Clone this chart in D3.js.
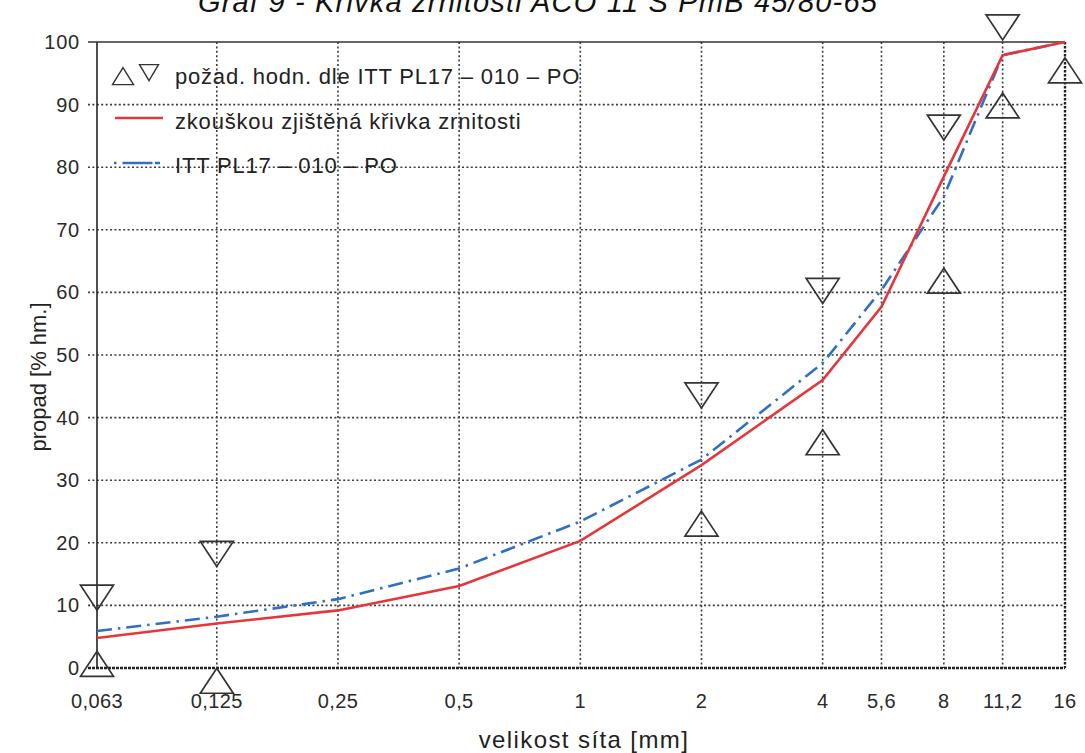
<!DOCTYPE html>
<html>
<head>
<meta charset="utf-8">
<script src="https://cdn.jsdelivr.net/npm/d3@7"></script>
<style>
  body { margin: 0; background: #fff; }
  svg { display: block; font-family: "Liberation Sans", Arial, sans-serif; }
</style>
</head>
<body>
<svg id="chart" width="1085" height="753"></svg>
<script>
// sieve sizes (mm) and their labels
var sieves = [0.063, 0.125, 0.25, 0.5, 1, 2, 4, 5.6, 8, 11.2, 16];
var sieveLabels = ['0,063', '0,125', '0,25', '0,5', '1', '2', '4', '5,6', '8', '11,2', '16'];
var yTicks = [0, 10, 20, 30, 40, 50, 60, 70, 80, 90, 100];

// measured grading curve
var measured = [4.8, 7.1, 9.2, 13.1, 20.3, 32.4, 46.0, 57.7, 78.5, 97.9, 100];
// ITT PL17 - 010 - PO curve
var ittCurve = [5.9, 8.2, 11.0, 15.9, 23.4, 33.3, 48.7, 60.4, 75.3, 97.9, 100];

// required limits (triangles)
var lowerSieves = [0.063, 0.125, 2, 4, 8, 11.2, 16];
var lowerLimits = [0, -2.7, 22.4, 35.4, 61.2, 89.2, 94.8];
var upperSieves = [0.063, 0.125, 2, 4, 8, 11.2];
var upperLimits = [11.9, 18.9, 44.2, 60.9, 87, 103];

var svg = d3.select('#chart');

var x = d3.scaleLog().domain([0.063, 16]).range([97, 1065]);
var y = d3.scaleLinear().domain([0, 100]).range([668, 42]);

// title (cut off at the top of the page, as in the scan)
svg.append('text')
  .attr('x', 538)
  .attr('y', 12)
  .attr('text-anchor', 'middle')
  .style('font-size', '29px')
  .style('letter-spacing', '1.2px')
  .style('font-style', 'italic')
  .style('fill', '#111')
  .text('Graf 9 - Křivka zrnitosti ACO 11 S PmB 45/80-65');

// grid
var grid = svg.append('g');
grid.selectAll('line.h')
  .data(yTicks.slice(1, -1))
  .enter()
  .append('line')
  .attr('x1', 88)
  .attr('x2', x(16))
  .attr('y1', function (d) { return y(d); })
  .attr('y2', function (d) { return y(d); })
  .style('stroke', '#3c3c3c')
  .style('stroke-width', 1.6)
  .style('stroke-dasharray', '2,2.4');

grid.selectAll('line.v')
  .data(sieves.slice(1, -1))
  .enter()
  .append('line')
  .attr('x1', function (d) { return x(d); })
  .attr('x2', function (d) { return x(d); })
  .attr('y1', y(100))
  .attr('y2', y(0))
  .style('stroke', '#3c3c3c')
  .style('stroke-width', 1.6)
  .style('stroke-dasharray', '2,2.4');

// frame
svg.append('line')
  .attr('x1', x(0.063)).attr('x2', x(0.063))
  .attr('y1', y(100)).attr('y2', y(0))
  .style('stroke', '#222').style('stroke-width', 1.6);
svg.append('line')
  .attr('x1', 88).attr('x2', x(16))
  .attr('y1', y(100)).attr('y2', y(100))
  .style('stroke', '#333').style('stroke-width', 1.6);
svg.append('line')
  .attr('x1', 88).attr('x2', x(16))
  .attr('y1', y(0)).attr('y2', y(0))
  .style('stroke', '#222').style('stroke-width', 2.6)
  .style('stroke-dasharray', '3,1');
svg.append('line')
  .attr('x1', x(16)).attr('x2', x(16))
  .attr('y1', y(100)).attr('y2', y(0))
  .style('stroke', '#222').style('stroke-width', 2.4)
  .style('stroke-dasharray', '2.5,1.5');

// axis labels
svg.selectAll('text.ytick')
  .data(yTicks)
  .enter()
  .append('text')
  .attr('x', 80)
  .attr('y', function (d) { return y(d) + 7; })
  .attr('text-anchor', 'end')
  .style('font-size', '20px')
  .style('letter-spacing', '0.8px')
  .style('fill', '#2a2a2a')
  .text(function (d) { return d; });

svg.selectAll('text.xtick')
  .data(sieves)
  .enter()
  .append('text')
  .attr('x', function (d) { return x(d); })
  .attr('y', 708)
  .attr('text-anchor', 'middle')
  .style('font-size', '20px')
  .style('letter-spacing', '0.4px')
  .style('fill', '#2a2a2a')
  .text(function (d, i) { return sieveLabels[i]; });

svg.append('text')
  .attr('transform', 'translate(46,377) rotate(-90)')
  .attr('text-anchor', 'middle')
  .style('font-size', '22px')
  .style('fill', '#222')
  .text('propad [% hm.]');

svg.append('text')
  .attr('x', 584)
  .attr('y', 748)
  .attr('text-anchor', 'middle')
  .style('font-size', '24px')
  .style('letter-spacing', '1.4px')
  .style('fill', '#222')
  .text('velikost síta [mm]');

// curves
var line = d3.line()
  .x(function (d) { return x(d[0]); })
  .y(function (d) { return y(d[1]); });

svg.append('path')
  .datum(d3.zip(sieves, ittCurve))
  .attr('d', line)
  .style('fill', 'none')
  .style('stroke', '#2f6fc4')
  .style('stroke-width', 2.6)
  .style('stroke-dasharray', '15,6,2.5,6');

svg.append('path')
  .datum(d3.zip(sieves, measured))
  .attr('d', line)
  .style('fill', 'none')
  .style('stroke', '#e5363c')
  .style('stroke-width', 2.6);

// triangles, centroid at the value
function tri(w, h, up) {
  var a = up ? -2 * h / 3 : 2 * h / 3;
  var b = up ? h / 3 : -h / 3;
  return 'M0,' + a + 'L' + (w / 2) + ',' + b + 'L' + (-w / 2) + ',' + b + 'Z';
}

svg.selectAll('path.lo')
  .data(d3.zip(lowerSieves, lowerLimits))
  .enter()
  .append('path')
  .attr('d', tri(33, 25, true))
  .attr('transform', function (d) { return 'translate(' + x(d[0]) + ',' + y(d[1]) + ')'; })
  .style('fill', 'none')
  .style('stroke', '#333')
  .style('stroke-width', 1.7);

svg.selectAll('path.hi')
  .data(d3.zip(upperSieves, upperLimits))
  .enter()
  .append('path')
  .attr('d', tri(33, 25, false))
  .attr('transform', function (d) { return 'translate(' + x(d[0]) + ',' + y(d[1]) + ')'; })
  .style('fill', 'none')
  .style('stroke', '#333')
  .style('stroke-width', 1.7);

// legend
var legend = svg.append('g');
legend.append('path')
  .attr('d', tri(21, 17, true))
  .attr('transform', 'translate(123,79)')
  .style('fill', 'none').style('stroke', '#333').style('stroke-width', 1.4);
legend.append('path')
  .attr('d', tri(19, 16, false))
  .attr('transform', 'translate(149,70)')
  .style('fill', 'none').style('stroke', '#333').style('stroke-width', 1.4);
legend.append('line')
  .attr('x1', 115).attr('x2', 163).attr('y1', 118).attr('y2', 118)
  .style('stroke', '#e5363c').style('stroke-width', 2.6);
legend.append('line')
  .attr('x1', 114).attr('x2', 160).attr('y1', 163).attr('y2', 163)
  .style('stroke', '#2f6fc4').style('stroke-width', 2.6)
  .style('stroke-dasharray', '2.5,6,30');

var legendTexts = ['požad. hodn. dle ITT PL17 – 010 – PO', 'zkouškou zjištěná křivka zrnitosti', 'ITT PL17 – 010 – PO'];
legend.selectAll('text')
  .data(legendTexts)
  .enter()
  .append('text')
  .attr('x', 175)
  .attr('y', function (d, i) { return 84 + i * 44.5; })
  .style('font-size', '22px')
  .style('letter-spacing', '0.8px')
  .style('fill', '#222')
  .text(function (d) { return d; });
</script>
</body>
</html>
